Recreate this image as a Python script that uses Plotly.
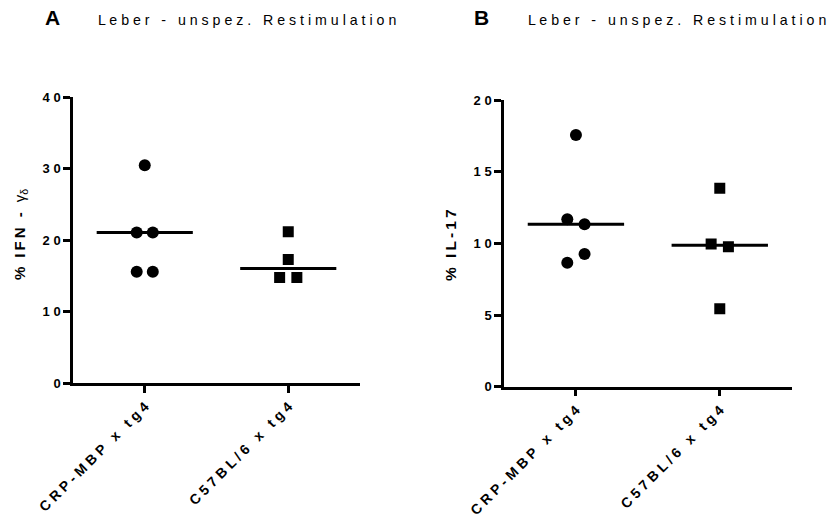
import numpy as np
import plotly.graph_objects as go

# ---- data ----
categories = ["CRP-MBP x tg4", "C57BL/6 x tg4"]
ifn_crp = [30.5, 21.1, 21.1, 15.6, 15.6]
ifn_c57 = [21.2, 17.3, 14.8, 14.8]
il17_crp = [17.56, 11.68, 11.33, 9.26, 8.65]
il17_c57 = [13.84, 9.96, 9.77, 5.44]
ifn_ticks = [0, 10, 20, 30, 40]
il17_ticks = [0, 5, 10, 15, 20]
panel_titles = ["Leber - unspez. Restimulation", "Leber - unspez. Restimulation"]
panel_letters = ["A", "B"]

# ---- layout / style constants (not data) ----
jit_ifn_crp = [0.0, -0.056, 0.056, -0.056, 0.056]
jit_ifn_c57 = [0.0, 0.0, -0.06, 0.06]
jit_il17_crp = [0.0, -0.06, 0.06, 0.06, -0.06]
jit_il17_c57 = [0.0, -0.06, 0.06, 0.0]
HALF = 0.335
FONT = "Liberation Sans, Arial, sans-serif"
THIN = "\u2009"


def spaced(s, sep=THIN):
    return sep.join(list(s))


fig = go.Figure()


def add_group(vals, jit, idx, symbol, xa, ya, size):
    fig.add_trace(go.Scatter(
        x=[idx + j for j in jit], y=vals, mode="markers",
        marker=dict(symbol=symbol, size=size, color="black", line=dict(width=0)),
        xaxis=xa, yaxis=ya, showlegend=False, hoverinfo="y"))
    med = float(np.median(vals))
    fig.add_trace(go.Scatter(
        x=[idx - HALF, idx + HALF], y=[med, med], mode="lines",
        line=dict(color="black", width=3), xaxis=xa, yaxis=ya,
        showlegend=False, hoverinfo="skip"))


add_group(ifn_crp, jit_ifn_crp, 0, "circle", "x", "y", 12)
add_group(ifn_c57, jit_ifn_c57, 1, "square", "x", "y", 11)
add_group(il17_crp, jit_il17_crp, 0, "circle", "x2", "y2", 12)
add_group(il17_c57, jit_il17_c57, 1, "square", "x2", "y2", 11)

W, H = 832, 523
ax_common = dict(showgrid=False, zeroline=False, showline=True, linecolor="black",
                 linewidth=2.5, ticks="outside", tickcolor="black", tickwidth=2.5,
                 ticklen=7, automargin=False)
yfont = dict(family=FONT, size=13, color="black")
xfont = dict(family=FONT, size=14, color="black")


def bt(s):
    return "<b>" + s + "</b>"


fig.update_layout(
    width=W, height=H, margin=dict(l=0, r=0, t=0, b=0),
    paper_bgcolor="white", plot_bgcolor="white",
    xaxis=dict(domain=[73 / W, 360 / W], range=[-0.5, 1.5], tickmode="array",
               tickvals=[0, 1], ticktext=[bt(spaced(c, " ")) for c in categories], tickangle=-45,
               tickfont=xfont, anchor="y", **ax_common),
    yaxis=dict(domain=[1 - 383.3 / H, 1 - 97.3 / H], range=[0, 40], tickmode="array",
               tickvals=ifn_ticks, ticktext=[bt(spaced(str(t), " ")) for t in ifn_ticks],
               tickfont=yfont, anchor="x", **ax_common),
    xaxis2=dict(domain=[504 / W, 791.7 / W], range=[-0.5, 1.5], tickmode="array",
                tickvals=[0, 1], ticktext=[bt(spaced(c, " ")) for c in categories], tickangle=-45,
                tickfont=xfont, anchor="y2", **ax_common),
    yaxis2=dict(domain=[1 - 386.7 / H, 1 - 100 / H], range=[0, 20], tickmode="array",
                tickvals=il17_ticks, ticktext=[bt(spaced(str(t), " ")) for t in il17_ticks],
                tickfont=yfont, anchor="x2", **ax_common),
)

ann = []
for letter, lx, tx, title in [(panel_letters[0], 52, 96, panel_titles[0]),
                               (panel_letters[1], 481, 526, panel_titles[1])]:
    ann.append(dict(text="<b>" + letter + "</b>", x=lx / W, y=1 - 17.5 / H, xref="paper", yref="paper",
                    xanchor="center", yanchor="middle", showarrow=False,
                    font=dict(family=FONT, size=21, color="black")))
    ann.append(dict(text=spaced(title, " "), x=tx / W, y=1 - 20 / H, xref="paper", yref="paper",
                    xanchor="left", yanchor="middle", showarrow=False,
                    font=dict(family=FONT, size=14.2, color="black")))

ann.append(dict(text="<b>%" + THIN * 3 + spaced("IFN - ") + THIN + "</b>γ<sub>δ</sub>", x=20 / W, y=1 - 235 / H,
                xref="paper", yref="paper", xanchor="center", yanchor="middle",
                textangle=-90, showarrow=False, font=dict(family=FONT, size=15, color="black")))
ann.append(dict(text="<b>%" + THIN * 3 + spaced("IL-17") + "</b>", x=450 / W, y=1 - 245 / H,
                xref="paper", yref="paper", xanchor="center", yanchor="middle",
                textangle=-90, showarrow=False, font=dict(family=FONT, size=15.5, color="black")))
fig.update_layout(annotations=ann)

fig.write_html("out.html")
